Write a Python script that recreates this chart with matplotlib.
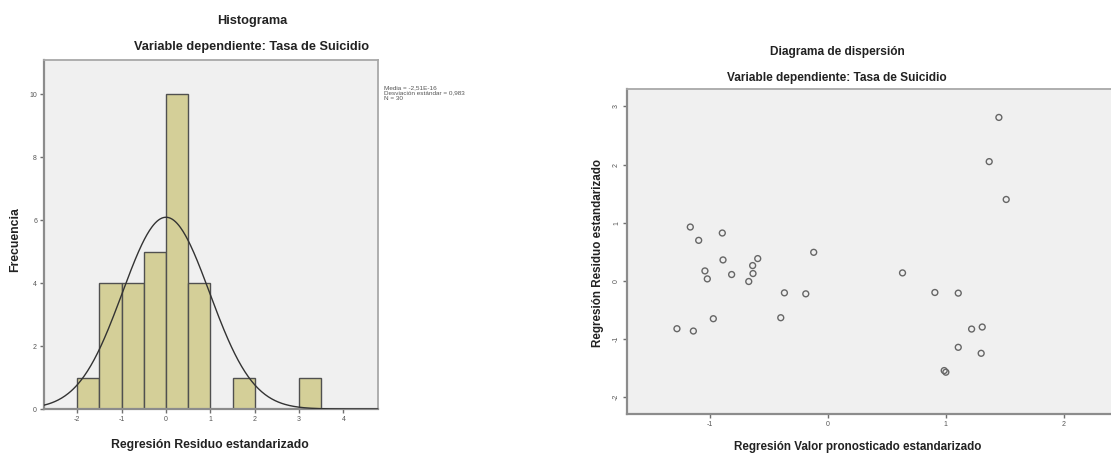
import numpy as np
import matplotlib
matplotlib.use('Agg')
import matplotlib.pyplot as plt

plt.rcParams['font.family'] = ['Liberation Sans', 'DejaVu Sans']
plt.rcParams['axes.unicode_minus'] = False

# histogram of standardized residuals (bin width 0.5)
bin_left = [-2.0, -1.5, -1.0, -0.5, 0.0, 0.5, 1.0, 1.5, 2.0, 2.5, 3.0]
bin_count = [1, 4, 4, 5, 10, 4, 0, 1, 0, 0, 1]
bin_width = 0.5
res_mean = 0.0
res_sd = 0.983
n_obs = 30
stats_lines = ['Media = -2,51E-16', 'Desviación estándar = 0,983', 'N = 30']

# scatter: predicted (x) vs residual (y), standardized
pred_std = [-1.164, -1.093, -0.893, -0.887, -1.040, -1.020, -0.814, -0.669, -0.636, -0.633,
            -0.593, -0.119, -0.367, -0.186, -0.398, -0.969, -1.277, -1.138, 0.633, 0.907,
            1.105, 1.308, 1.218, 1.105, 1.299, 0.986, 1.000, 1.449, 1.367, 1.511]
resid_std = [0.926, 0.697, 0.823, 0.360, 0.171, 0.034, 0.109, -0.011, 0.263, 0.126,
             0.383, 0.491, -0.206, -0.223, -0.634, -0.651, -0.823, -0.863, 0.137, -0.200,
             -0.211, -0.794, -0.829, -1.143, -1.246, -1.543, -1.571, 2.811, 2.051, 1.400]

W, H = 1111, 455
fig = plt.figure(figsize=(W / 100, H / 100), dpi=100)
fig.patch.set_facecolor('white')

frame_col = '#8c8c8c'
bg_col = '#f0f0f0'
txt_col = '#222222'

def px(x0, y0, x1, y1):
    return [x0 / W, 1 - y1 / H, (x1 - x0) / W, (y1 - y0) / H]

def style_axes(ax):
    ax.set_facecolor(bg_col)
    for s in ['left', 'bottom']:
        ax.spines[s].set_color(frame_col)
        ax.spines[s].set_linewidth(1.6)
    for s in ['top', 'right']:
        ax.spines[s].set_color('#a8a8a8')
        ax.spines[s].set_linewidth(1.3)
    ax.tick_params(direction='out', length=3, width=1, color='#707070',
                   labelsize=5, labelcolor='#555555', pad=2)

# --- histogram
ax1 = fig.add_axes(px(44, 60, 378, 409))
style_axes(ax1)
ax1.bar(bin_left, bin_count, width=bin_width, align='edge',
        color='#d4cf98', edgecolor='#505050', linewidth=1.0, zorder=2)
xs = np.linspace(-2.75, 4.78, 400)
curve = n_obs * bin_width * np.exp(-0.5 * ((xs - res_mean) / res_sd) ** 2) / (res_sd * np.sqrt(2 * np.pi))
ax1.plot(xs, curve, color='#333333', lw=1.0, zorder=3)
ax1.set_xlim(-2.75, 4.78)
ax1.set_ylim(0, 11.08)
ax1.set_xticks([-2, -1, 0, 1, 2, 3, 4])
ax1.set_yticks([0, 2, 4, 6, 8, 10])

fig.text(252 / W, 1 - 21 / H, 'Histograma', ha='center', va='center',
         fontsize=9.2, fontweight='bold', color=txt_col)
fig.text(252 / W, 1 - 47 / H, 'Variable dependiente: Tasa de Suicidio', ha='center', va='center',
         fontsize=9.2, fontweight='bold', color=txt_col)
fig.text(210 / W, 1 - 445 / H, 'Regresión Residuo estandarizado', ha='center', va='center',
         fontsize=8.8, fontweight='bold', color=txt_col)
fig.text(15 / W, 1 - 240 / H, 'Frecuencia', ha='center', va='center', rotation=90,
         fontsize=8.8, fontweight='bold', color=txt_col)
fig.text(384 / W, 1 - 85 / H, '\n'.join(stats_lines), ha='left', va='top',
         fontsize=4.6, color='#555555', linespacing=1.1)

# --- scatter
ax2 = fig.add_axes(px(627, 89, 1123, 414))
style_axes(ax2)
ax2.scatter(pred_std, resid_std, s=18, facecolors='none', edgecolors='#666666',
            linewidths=1.0, zorder=3)
ax2.set_xlim(-1.70, 2.50)
ax2.set_ylim(-2.29, 3.30)
ax2.set_xticks([-1, 0, 1, 2])
ax2.set_yticks([-2, -1, 0, 1, 2, 3])
for lbl in ax2.get_yticklabels():
    lbl.set_rotation(90)
    lbl.set_va('center')

fig.text(837 / W, 1 - 52 / H, 'Diagrama de dispersión', ha='center', va='center',
         fontsize=8.6, fontweight='bold', color=txt_col)
fig.text(837 / W, 1 - 78 / H, 'Variable dependiente: Tasa de Suicidio', ha='center', va='center',
         fontsize=8.6, fontweight='bold', color=txt_col)
fig.text(858 / W, 1 - 447 / H, 'Regresión Valor pronosticado estandarizado', ha='center', va='center',
         fontsize=8.4, fontweight='bold', color=txt_col)
fig.text(598 / W, 1 - 253 / H, 'Regresión Residuo estandarizado', ha='center', va='center',
         rotation=90, fontsize=8.4, fontweight='bold', color=txt_col)

fig.savefig('out.png', dpi=100, facecolor='white')
